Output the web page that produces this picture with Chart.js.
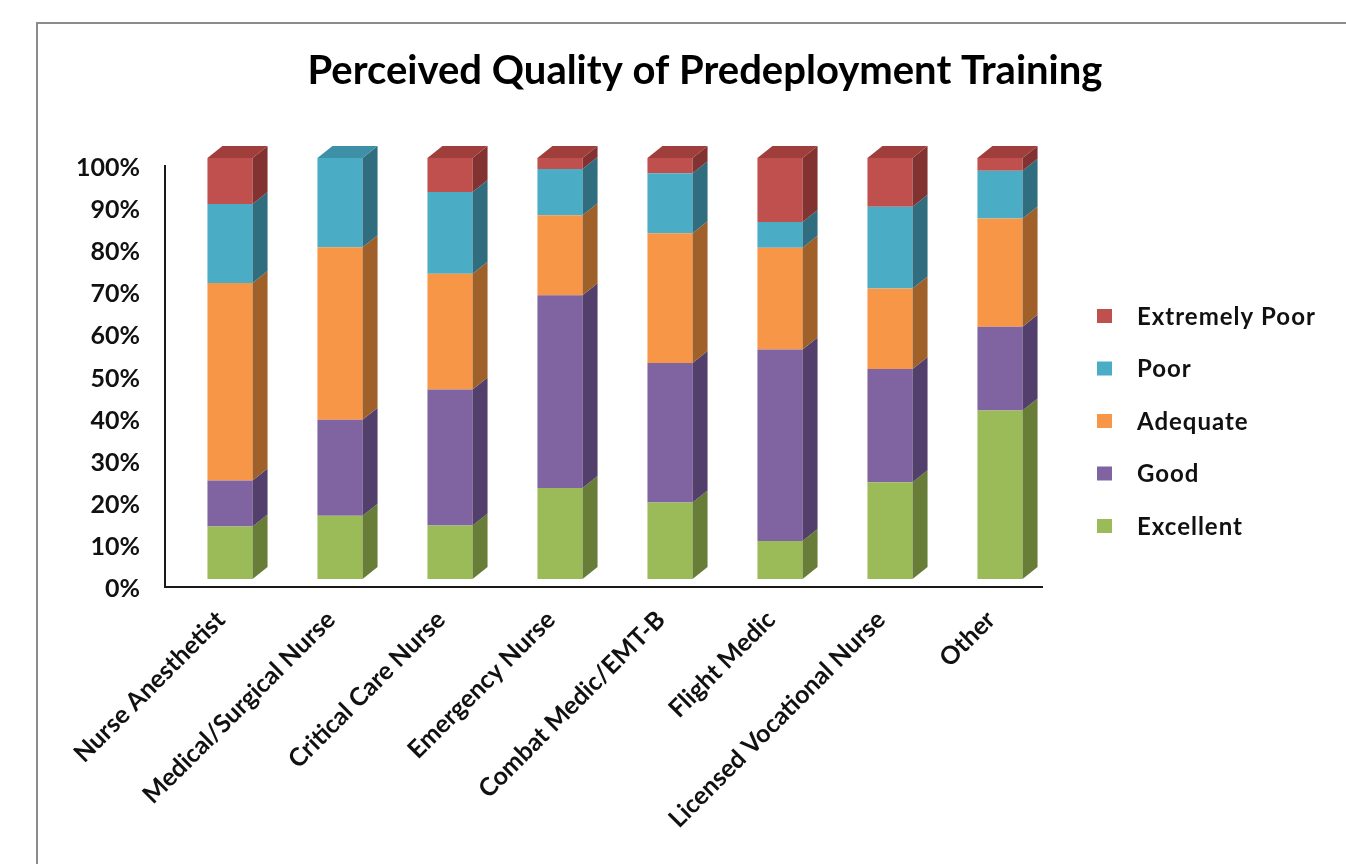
<!DOCTYPE html>
<html>
<head>
<meta charset="utf-8">
<script src="https://cdn.jsdelivr.net/npm/chart.js@4.4.0/dist/chart.umd.min.js"></script>
<style>
  html, body { margin: 0; padding: 0; background: #fff; }
</style>
</head>
<body>
<canvas id="trainingChart" width="1346" height="864"></canvas>
<script>
// categories and series (percent of respondents)
const categories = ['Nurse Anesthetist', 'Medical/Surgical Nurse', 'Critical Care Nurse', 'Emergency Nurse',
    'Combat Medic/EMT-B', 'Flight Medic', 'Licensed Vocational Nurse', 'Other'];
const excellent     = [12.5, 15.0, 12.7, 21.6, 18.2,  9.0, 23.0, 40.0];
const good          = [10.9, 22.8, 32.3, 45.8, 33.1, 45.5, 26.9, 19.9];
const adequate      = [46.9, 41.0, 27.5, 19.0, 30.8, 24.2, 19.1, 25.7];
const poor          = [18.8, 21.2, 19.4, 11.0, 14.3,  6.1, 19.4, 11.4];
const extremelyPoor = [10.9,  0.0,  8.1,  2.6,  3.6, 15.2, 11.6,  3.0];
const yTicks = [0, 10, 20, 30, 40, 50, 60, 70, 80, 90, 100];

const FONT = 'Lato, "Open Sans", sans-serif';

// front, side, top colours for each rating
const palette = {
    'Excellent':      ['#9BBB59', '#687E38', '#84A04A'],
    'Good':           ['#8064A2', '#523F6C', '#6B5389'],
    'Adequate':       ['#F79646', '#A0602A', '#D27E3A'],
    'Poor':           ['#4BACC6', '#2F6D7F', '#3E90A7'],
    'Extremely Poor': ['#C0504D', '#823231', '#A03E3C']
};

// draws the 3D sides, axes, frame, title and legend
const excelLook = {
    id: 'excelLook',
    beforeDraw(chart) {
        const ctx = chart.ctx;
        ctx.save();
        ctx.fillStyle = '#fff';
        ctx.fillRect(0, 0, chart.width, chart.height);
        ctx.strokeStyle = '#8c8c8c';
        ctx.lineWidth = 2;
        ctx.beginPath();
        ctx.moveTo(37, chart.height);
        ctx.lineTo(37, 23);
        ctx.lineTo(chart.width, 23);
        ctx.stroke();
        ctx.restore();
    },
    afterDatasetsDraw(chart) {
        const ctx = chart.ctx;
        const dx = 15, dy = 12;
        const topIndex = [];
        chart.data.datasets.forEach(function(ds, i) {
            ds.data.forEach(function(v, j) { if (v > 0) topIndex[j] = i; });
        });
        ctx.save();
        chart.data.datasets.forEach(function(ds, i) {
            const meta = chart.getDatasetMeta(i);
            const cols = palette[ds.label];
            meta.data.forEach(function(bar, j) {
                if (ds.data[j] <= 0) return;
                const p = bar.getProps(['x', 'y', 'base', 'width'], true);
                const l = p.x - p.width / 2, r = p.x + p.width / 2;
                ctx.fillStyle = cols[1];
                ctx.beginPath();
                ctx.moveTo(r, p.y);
                ctx.lineTo(r + dx, p.y - dy);
                ctx.lineTo(r + dx, p.base - dy);
                ctx.lineTo(r, p.base);
                ctx.closePath();
                ctx.fill();
                if (topIndex[j] === i) {
                    ctx.fillStyle = cols[2];
                    ctx.beginPath();
                    ctx.moveTo(l, p.y);
                    ctx.lineTo(r, p.y);
                    ctx.lineTo(r + dx, p.y - dy);
                    ctx.lineTo(l + dx, p.y - dy);
                    ctx.closePath();
                    ctx.fill();
                }
            });
        });
        // axis lines on the front plane
        const area = chart.chartArea;
        ctx.strokeStyle = '#1a1a1a';
        ctx.lineWidth = 2;
        ctx.beginPath();
        ctx.moveTo(area.left - 10, area.top + 7);
        ctx.lineTo(area.left - 10, area.bottom + 8);
        ctx.lineTo(area.right - 12, area.bottom + 8);
        ctx.stroke();
        ctx.restore();
    },
    afterDraw(chart) {
        const ctx = chart.ctx;
        ctx.save();
        ctx.fillStyle = '#000';
        ctx.font = 'bold 40px ' + FONT;
        ctx.textAlign = 'center';
        ctx.textBaseline = 'middle';
        ctx.fillText('Perceived Quality of Predeployment Training', 705, 71);

        // legend, worst rating on top
        ctx.font = 'bold 24px ' + FONT;
        ctx.letterSpacing = '1px';
        ctx.textAlign = 'left';
        const items = chart.data.datasets.slice().reverse();
        items.forEach(function(ds, k) {
            const y = 316 + k * 52.5;
            ctx.fillStyle = ds.backgroundColor;
            ctx.fillRect(1097, y - 7, 15, 14);
            ctx.fillStyle = '#111';
            ctx.fillText(ds.label, 1137, y + 1);
        });
        ctx.restore();
    }
};

function makeSet(label, values) {
    return {
        label: label,
        data: values,
        backgroundColor: palette[label][0],
        borderWidth: 0,
        categoryPercentage: 1.0,
        barPercentage: 0.41
    };
}

const ctx = document.getElementById('trainingChart').getContext('2d');
const trainingChart = new Chart(ctx, {
    type: 'bar',
    data: {
        labels: categories,
        datasets: [
            makeSet('Excellent', excellent),
            makeSet('Good', good),
            makeSet('Adequate', adequate),
            makeSet('Poor', poor),
            makeSet('Extremely Poor', extremelyPoor)
        ]
    },
    options: {
        responsive: false,
        animation: false,
        layout: { padding: { top: 158, left: 40, right: 291, bottom: 0 } },
        plugins: {
            legend: { display: false },
            title: { display: false },
            tooltip: { enabled: false }
        },
        scales: {
            x: {
                stacked: true,
                grid: { display: false, drawTicks: false },
                border: { display: false },
                ticks: {
                    minRotation: 45,
                    maxRotation: 45,
                    padding: 26,
                    labelOffset: -9,
                    color: '#111',
                    font: { family: FONT, size: 25, weight: 'bold' }
                },
                afterFit: function(scale) { scale.height = 285; }
            },
            y: {
                stacked: true,
                min: 0,
                max: 100,
                grid: { display: false, drawTicks: false },
                border: { display: false },
                afterBuildTicks: function(scale) {
                    scale.ticks = yTicks.map(function(v) { return { value: v }; });
                },
                ticks: {
                    padding: 35,
                    labelOffset: 10,
                    color: '#111',
                    font: { family: FONT, size: 25, weight: 'bold' },
                    callback: function(v) { return v + '%'; }
                },
                afterFit: function(scale) { scale.width = 135; }
            }
        }
    },
    plugins: [excelLook]
});
</script>
</body>
</html>
